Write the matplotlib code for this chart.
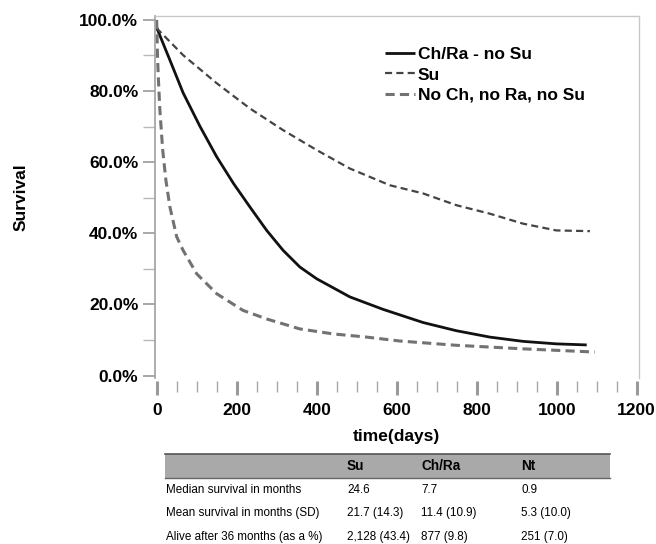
import matplotlib
matplotlib.use("Agg")
import matplotlib.pyplot as plt
from matplotlib.patches import Rectangle
from matplotlib.ticker import MultipleLocator, FuncFormatter

plt.rcParams['font.family'] = ['Liberation Sans', 'DejaVu Sans']

# survival curves (days, % surviving)
su_days = [0, 4, 66, 150, 233, 316, 400, 483, 583, 666, 749, 833, 916, 999, 1083]
su_surv = [97.8, 97.2, 90.1, 82.2, 75.1, 69.0, 63.4, 58.2, 53.5, 51.2, 47.9, 45.5, 42.7, 40.8, 40.6]

ch_days = [0, 33, 66, 108, 150, 192, 233, 275, 316, 358, 400, 483, 566, 666, 749, 833, 916, 999, 1075]
ch_surv = [97.8, 88.7, 79.5, 70.1, 61.5, 54.0, 47.4, 40.8, 35.2, 30.5, 27.2, 22.1, 18.6, 14.9, 12.6, 10.8, 9.6, 8.9, 8.6]

nt_days = [0, 2, 4, 8, 15, 23, 33, 50, 66, 100, 150, 216, 275, 358, 441, 525, 608, 749, 916, 1095]
nt_surv = [100, 90, 84, 74.6, 63.4, 54.9, 47.4, 39.0, 35.2, 28.6, 23.0, 18.3, 15.9, 13.1, 11.7, 10.8, 9.7, 8.5, 7.5, 6.6]

legend_labels = ['Ch/Ra - no Su', 'Su', 'No Ch, no Ra, no Su']

# summary table
col_heads = ['Su', 'Ch/Ra', 'Nt']
row_heads = ['Median survival in months', 'Mean survival in months (SD)', 'Alive after 36 months (as a %)']
cells = [['24.6', '7.7', '0.9'],
         ['21.7 (14.3)', '11.4 (10.9)', '5.3 (10.0)'],
         ['2,128 (43.4)', '877 (9.8)', '251 (7.0)']]

W, H = 656, 544
fig = plt.figure(figsize=(W / 100, H / 100), dpi=100)
ax = fig.add_axes([155 / W, 1 - 378 / H, (639 - 155) / W, (378 - 16) / H])

l1, = ax.plot(ch_days, ch_surv, color='#111111', lw=2.0, solid_capstyle='butt')
l2, = ax.plot(su_days, su_surv, color='#444444', lw=1.6, dashes=(3.2, 1.9))
l3, = ax.plot(nt_days, nt_surv, color='#727272', lw=2.2, dashes=(3.0, 1.7))

ax.set_xlim(-4.25, 1205.75)
ax.set_ylim(-0.7, 101.1)

ax.xaxis.set_major_locator(MultipleLocator(200))
ax.xaxis.set_minor_locator(MultipleLocator(50))
ax.yaxis.set_major_locator(MultipleLocator(20))
ax.yaxis.set_minor_locator(MultipleLocator(10))
ax.yaxis.set_major_formatter(FuncFormatter(lambda v, p: '%.1f%%' % v))

for s in ['top', 'right']:
    ax.spines[s].set_color('#c8c8c8')
    ax.spines[s].set_linewidth(1.0)
ax.spines['left'].set_color('#a0a0a0')
ax.spines['left'].set_linewidth(1.2)
ax.spines['bottom'].set_visible(False)
ax.spines['bottom'].set_position(('outward', 2))

ax.tick_params(axis='y', which='major', length=9, width=1.2, color='#9a9a9a', pad=3,
               labelsize=12.5)
ax.tick_params(axis='y', which='minor', length=9, width=1.0, color='#b8b8b8')
ax.tick_params(axis='x', which='major', length=10, width=2.2, color='#9a9a9a', pad=6,
               labelsize=12.5)
ax.tick_params(axis='x', which='minor', length=8, width=1.0, color='#a8a8a8')
for t in ax.get_xticklabels() + ax.get_yticklabels():
    t.set_fontweight('bold')

leg = ax.legend([l1, l2, l3], legend_labels, loc='upper left',
                bbox_to_anchor=(385 / W, 1 - 47 / H), bbox_transform=fig.transFigure,
                frameon=False, borderpad=0, borderaxespad=0, handlelength=1.75,
                handletextpad=0.15, labelspacing=0.3,
                prop={'weight': 'bold', 'size': 12.5})

fig.text(21 / W, 1 - 197 / H, 'Survival', rotation=90, ha='center', va='center',
         fontsize=12.5, fontweight='bold')
fig.text(396 / W, 1 - 437 / H, 'time(days)', ha='center', va='center',
         fontsize=12.5, fontweight='bold')

# header band of the table
bx0, bx1, by0, by1 = 165, 610, 454, 478
fig.patches.append(Rectangle((bx0 / W, 1 - by1 / H), (bx1 - bx0) / W, (by1 - by0) / H,
                             transform=fig.transFigure, facecolor='#a9a9a9',
                             edgecolor='none'))
fig.add_artist(plt.Line2D([bx0 / W, bx1 / W], [1 - by0 / H] * 2, color='#555555', lw=1.2))
fig.add_artist(plt.Line2D([bx0 / W, bx1 / W], [1 - by1 / H] * 2, color='#666666', lw=1.0))

col_x = [347, 421, 521]
for cx, head in zip(col_x, col_heads):
    fig.text(cx / W, 1 - 466 / H, head, ha='left', va='center', fontsize=9.8,
             fontweight='bold')
row_y = [490, 513, 537]
for ry, rh, vals in zip(row_y, row_heads, cells):
    fig.text(166 / W, 1 - ry / H, rh, ha='left', va='center', fontsize=8.4)
    for cx, v in zip(col_x, vals):
        fig.text(cx / W, 1 - ry / H, v, ha='left', va='center', fontsize=8.4)

fig.savefig('out.png', dpi=100)
